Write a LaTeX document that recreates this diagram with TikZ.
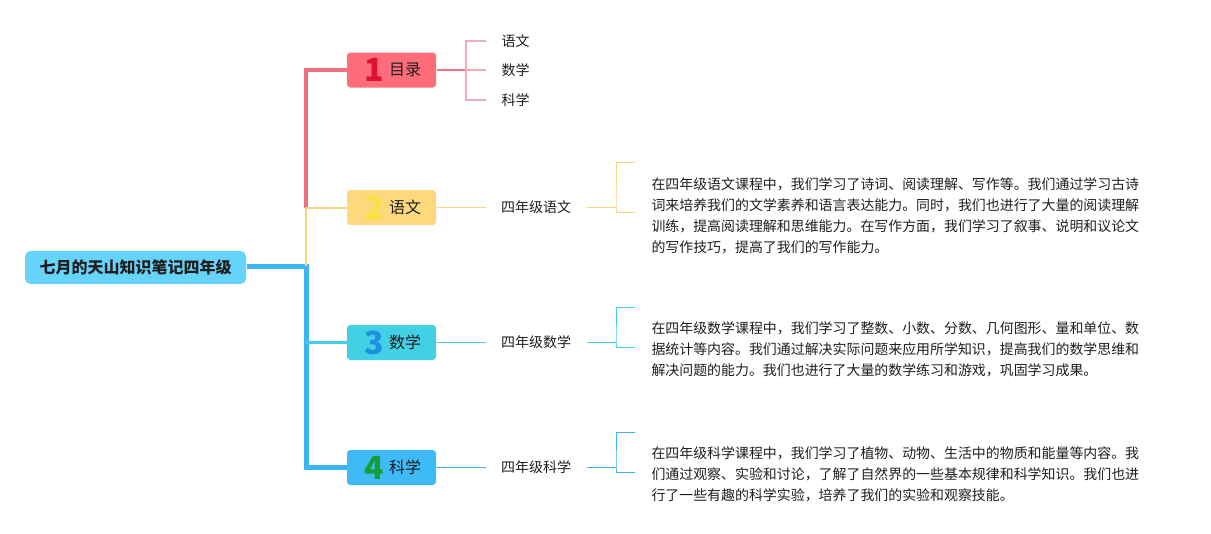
\documentclass[tikz,border=0pt]{standalone}
\usepackage{fontspec}
\setmainfont{Noto Sans CJK SC}
\usetikzlibrary{positioning}

\definecolor{rootfill}{RGB}{102,212,250}
\definecolor{redfill}{RGB}{255,108,122}
\definecolor{redline}{RGB}{240,112,126}
\definecolor{rednum}{RGB}{222,18,48}
\definecolor{pinkline}{RGB}{240,172,186}
\definecolor{yellowfill}{RGB}{253,216,124}
\definecolor{yellowline}{RGB}{252,212,128}
\definecolor{yellownum}{RGB}{246,226,64}
\definecolor{cyanfill}{RGB}{66,208,228}
\definecolor{cyanline}{RGB}{70,204,228}
\definecolor{cyannum}{RGB}{30,146,226}
\definecolor{bluefill}{RGB}{62,186,246}
\definecolor{blueline}{RGB}{60,182,242}
\definecolor{greennum}{RGB}{22,160,52}
\definecolor{inktext}{RGB}{30,30,30}

\tikzset{every picture/.style={line width=0.75pt}}

\begin{document}
\begin{tikzpicture}[x=0.75pt,y=0.75pt,yscale=-1,xscale=1,
  rootbox/.style={fill=rootfill, rounded corners=4pt, minimum width=165.75pt, minimum height=24.75pt, inner sep=0pt, font=\fontsize{12pt}{14pt}\selectfont\bfseries, text=inktext},
  topicbox/.style={rounded corners=2.5pt, minimum width=66.75pt, minimum height=26.25pt, inner sep=0pt},
  numtext/.style={inner sep=0pt, font=\fontsize{24pt}{26pt}\selectfont\bfseries},
  topictext/.style={inner sep=0pt, font=\fontsize{12pt}{14pt}\selectfont, text=inktext},
  subtext/.style={inner xsep=11.25pt, inner ysep=0.75pt, font=\fontsize{10.5pt}{12pt}\selectfont, text=inktext},
  paratext/.style={inner sep=0.75pt, align=left, font=\fontsize{10.45pt}{15.75pt}\selectfont, text=inktext}]
\useasboundingbox (0,0) rectangle (1211,533);

%Root
\node [rootbox] (root) at (135.5,267.5) {七月的天山知识笔记四年级};
\coordinate (trunk) at (306,266);

%Topic boxes
\node [topicbox, fill=redfill] (t1) at (391.5,70) {};
\node [numtext, text=rednum] (n1) at (374,70) {1};
\node [topictext] (l1) at (405,70) {目录};

\node [topicbox, fill=yellowfill] (t2) at (391.5,207.5) {};
\node [numtext, text=yellownum] (n2) at (374,207.5) {2};
\node [topictext] (l2) at (405,207.5) {语文};

\node [topicbox, fill=cyanfill] (t3) at (391.5,342.5) {};
\node [numtext, text=cyannum] (n3) at (374,342.5) {3};
\node [topictext] (l3) at (405,342.5) {数学};

\node [topicbox, fill=bluefill] (t4) at (391.5,467.5) {};
\node [numtext, text=greennum] (n4) at (374,467.5) {4};
\node [topictext] (l4) at (405,467.5) {科学};

%Main branches
\draw [blueline, line width=3.75pt] (root.east |- trunk) -- (trunk) |- (t4.west);
\draw [cyanline, line width=2.25pt] (trunk |- t3.west) -- (t3.west);
\draw [redline, line width=3pt] (trunk |- t2.west) |- (t1.west);
\draw [yellowline, line width=1.5pt] (trunk) |- (t2.west);

%Children of t1
\node [subtext, anchor=west] (c1) at (486,41) {语文};
\node [subtext, anchor=west] (c2) at (486,70) {数学};
\node [subtext, anchor=west] (c3) at (486,100) {科学};
\coordinate (k1) at (466,70);
\draw [redline, line width=1.5pt] (t1.east) -- (k1);
\draw [pinkline, line width=1.1pt] (c1.west) -| (k1) |- (c3.west);
\draw [pinkline, line width=1.1pt] (k1) -- (c2.west);

%Level two
\node [subtext] (s2) at (536,207.5) {四年级语文};
\node [subtext] (s3) at (536,342.5) {四年级数学};
\node [subtext] (s4) at (536,467.5) {四年级科学};
\draw [yellowline] (t2.east) -- (s2.west);
\draw [cyanline] (t3.east) -- (s3.west);
\draw [blueline] (t4.east) -- (s4.west);

%Brackets
\coordinate (b2) at (616,207.5);
\coordinate (b2t) at (635,162);
\coordinate (b2b) at (635,212);
\draw [yellowline] (s2.east) -- (b2);
\draw [yellowline] (b2t) -| (b2) |- (b2b);

\coordinate (b3) at (616,342.5);
\coordinate (b3t) at (635,307);
\coordinate (b3b) at (635,347);
\draw [cyanline] (s3.east) -- (b3);
\draw [cyanline] (b3t) -| (b3) |- (b3b);

\coordinate (b4) at (616,467.5);
\coordinate (b4t) at (635,432);
\coordinate (b4b) at (635,472);
\draw [blueline] (s4.east) -- (b4);
\draw [blueline] (b4t) -| (b4) |- (b4b);

%Paragraphs
\node [paratext, anchor=west] (p2) at (650,216) {在四年级语文课程中，我们学习了诗词、阅读理解、写作等。我们通过学习古诗\\词来培养我们的文学素养和语言表达能力。同时，我们也进行了大量的阅读理解\\训练，提高阅读理解和思维能力。在写作方面，我们学习了叙事、说明和议论文\\的写作技巧，提高了我们的写作能力。};
\node [paratext, anchor=west] (p3) at (650,349) {在四年级数学课程中，我们学习了整数、小数、分数、几何图形、量和单位、数\\据统计等内容。我们通过解决实际问题来应用所学知识，提高我们的数学思维和\\解决问题的能力。我们也进行了大量的数学练习和游戏，巩固学习成果。};
\node [paratext, anchor=west] (p4) at (650,474) {在四年级科学课程中，我们学习了植物、动物、生活中的物质和能量等内容。我\\们通过观察、实验和讨论，了解了自然界的一些基本规律和科学知识。我们也进\\行了一些有趣的科学实验，培养了我们的实验和观察技能。};
\end{tikzpicture}
\end{document}
